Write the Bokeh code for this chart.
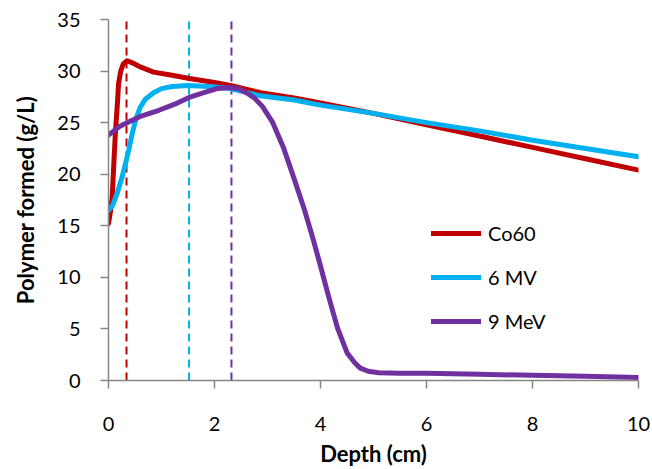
from bokeh.plotting import figure
from bokeh.models import Range1d, FixedTicker, Legend, LegendItem, ColumnDataSource
from bokeh.embed import file_html
from bokeh.resources import INLINE

# ---- data ----
depth_co60 = [0, 0.04, 0.07, 0.1, 0.13, 0.17, 0.19, 0.23, 0.28, 0.35, 0.45, 0.6, 0.85,
              1.2, 1.5, 2.0, 2.3, 2.87, 3.5, 4.0, 5.0, 6.0, 7.0, 8.0, 9.0, 10.0]
poly_co60 = [15.2, 16.5, 17.8, 21.0, 24.0, 27.0, 28.8, 30.0, 30.7, 31.0, 30.8, 30.4, 29.9,
             29.6, 29.3, 28.9, 28.6, 27.9, 27.4, 26.9, 25.9, 24.8, 23.7, 22.6, 21.5, 20.4]

depth_6mv = [0, 0.08, 0.16, 0.25, 0.32, 0.38, 0.45, 0.52, 0.6, 0.7, 0.85, 1.0, 1.2, 1.5,
             1.9, 2.3, 2.87, 3.5, 4.0, 5.0, 6.0, 7.0, 8.0, 9.0, 10.0]
poly_6mv = [16.5, 17.0, 18.1, 19.6, 21.0, 22.3, 24.0, 25.4, 26.5, 27.3, 27.9, 28.3, 28.5, 28.6,
            28.5, 28.3, 27.6, 27.2, 26.7, 25.9, 25.0, 24.2, 23.3, 22.5, 21.7]

depth_9mev = [0, 0.2, 0.35, 0.6, 0.95, 1.3, 1.55, 1.8, 2.05, 2.3, 2.45, 2.6, 2.75, 2.9, 3.1,
              3.3, 3.5, 3.7, 3.85, 4.0, 4.15, 4.32, 4.5, 4.65, 4.75, 4.9, 5.1, 5.5, 6.0, 7.0,
              8.0, 9.0, 10.0]
poly_9mev = [23.8, 24.6, 25.0, 25.6, 26.2, 26.9, 27.5, 27.9, 28.3, 28.4, 28.3, 27.9, 27.4,
             26.6, 25.0, 22.6, 19.6, 16.5, 13.9, 11.1, 8.2, 5.1, 2.7, 1.7, 1.2, 0.9, 0.75, 0.7,
             0.7, 0.6, 0.5, 0.4, 0.3]

series_names = ["Co60", "6 MV", "9 MeV"]
series_colors = ["#C00000", "#00B0F0", "#7030A0"]

peak_depths = [0.34, 1.52, 2.32]
peak_top = [34.8, 34.8, 34.8]
peak_bottom = [0, 0, 0]

x_ticks = [0, 2, 4, 6, 8, 10]
y_ticks = [0, 5, 10, 15, 20, 25, 30, 35]

FONT = "Lato"
AXIS_GRAY = "#868686"

p = figure(width=652, height=469, output_backend="svg", toolbar_location=None,
           x_range=Range1d(0, 10), y_range=Range1d(0, 35),
           min_border_left=108, min_border_right=14, min_border_top=19,
           min_border_bottom=89)
p.outline_line_color = None
p.xgrid.visible = False
p.ygrid.visible = False

# dashed peak markers
src_peaks = ColumnDataSource(dict(x=peak_depths, y0=peak_bottom, y1=peak_top,
                                  c=series_colors))
p.segment(x0="x", y0="y0", x1="x", y1="y1", line_color="c", line_width=2,
          line_dash="8 5", source=src_peaks)

renderers = []
for xs, ys, col in [(depth_co60, poly_co60, series_colors[0]),
                    (depth_6mv, poly_6mv, series_colors[1]),
                    (depth_9mev, poly_9mev, series_colors[2])]:
    r = p.line(xs, ys, line_color=col, line_width=5, line_cap="round", line_join="round")
    renderers.append(r)

# axes
for ax in (p.xaxis[0], p.yaxis[0]):
    ax.axis_line_color = AXIS_GRAY
    ax.axis_line_width = 1.5
    ax.major_tick_line_color = AXIS_GRAY
    ax.major_tick_line_width = 1.5
    ax.minor_tick_line_color = None
    ax.major_tick_in = 0
    ax.major_tick_out = 8
    ax.major_label_text_font = FONT
    ax.major_label_text_font_size = "20px"
    ax.major_label_text_color = "#000000"
    ax.axis_label_text_font = FONT
    ax.axis_label_text_font_size = "22px"
    ax.axis_label_text_font_style = "bold"
    ax.axis_label_text_color = "#000000"

p.xaxis.ticker = FixedTicker(ticks=x_ticks)
p.yaxis.ticker = FixedTicker(ticks=y_ticks)
p.xaxis.axis_label = "Depth (cm)"
p.yaxis.axis_label = "Polymer formed (g/L)"
p.xaxis.major_label_standoff = 28
p.xaxis.axis_label_standoff = 6
p.yaxis.major_label_standoff = 20
p.yaxis.axis_label_standoff = 15

legend = Legend(items=[LegendItem(label=n, renderers=[r]) for n, r in zip(series_names, renderers)],
                location=(323, 47), orientation="vertical",
                glyph_width=50, glyph_height=24, label_height=24, spacing=20,
                padding=0, margin=0, label_standoff=7,
                label_text_font=FONT, label_text_font_size="20px",
                label_text_color="#000000",
                background_fill_alpha=0, border_line_alpha=0)
p.add_layout(legend)

open("out.html", "w").write(file_html(p, INLINE))
